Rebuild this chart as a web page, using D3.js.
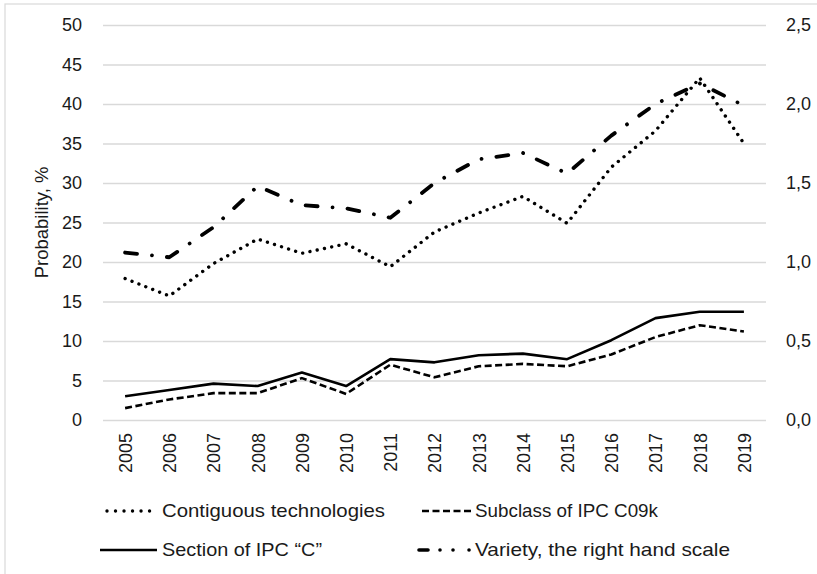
<!DOCTYPE html>
<html>
<head>
<meta charset="utf-8">
<script src="https://cdn.jsdelivr.net/npm/d3@7"></script>
<style>
  html, body { margin: 0; padding: 0; background: #fff; }
  svg { display: block; }
  text { font-family: "Liberation Sans", Arial, sans-serif; fill: #1a1a1a; }
</style>
</head>
<body>
<svg id="chart" width="817" height="574"></svg>
<script>
// ---- data ----
const years = ["2005","2006","2007","2008","2009","2010","2011","2012","2013","2014","2015","2016","2017","2018","2019"];
const contiguous = [17.9, 15.7, 19.8, 22.9, 21.1, 22.3, 19.4, 23.8, 26.2, 28.3, 24.9, 32.0, 36.6, 43.3, 35.0];
const subclassC09k = [1.5, 2.6, 3.4, 3.4, 5.3, 3.3, 7.0, 5.4, 6.8, 7.1, 6.8, 8.3, 10.5, 12.0, 11.2];
const sectionC = [3.0, 3.8, 4.6, 4.3, 6.0, 4.3, 7.7, 7.3, 8.2, 8.4, 7.7, 10.1, 12.9, 13.7, 13.7];
const variety = [1.06, 1.03, 1.22, 1.48, 1.36, 1.34, 1.28, 1.50, 1.65, 1.69, 1.56, 1.80, 2.00, 2.13, 1.99];
const leftTicks = [0, 5, 10, 15, 20, 25, 30, 35, 40, 45, 50];
const rightTicks = [0, 0.5, 1.0, 1.5, 2.0, 2.5];
const leftTitle = "Probability, %";
const legendLabels = ["Contiguous technologies", "Subclass of IPC C09k", "Section of IPC \u201CC\u201D", "Variety, the right hand scale"];

// ---- layout ----
const svg = d3.select("#chart");
const plot = { left: 103, right: 766, top: 25, bottom: 420 };
const textColor = "#1a1a1a";

svg.append("rect")
  .attr("x", 5).attr("y", 4).attr("width", 900).attr("height", 700)
  .attr("fill", "#fff").attr("stroke", "#d9d9d9").attr("stroke-width", 1.2);

const x = d3.scalePoint().domain(years).range([plot.left, plot.right]).padding(0.5);
const yL = d3.scaleLinear().domain([0, 50]).range([plot.bottom, plot.top]);
const yR = d3.scaleLinear().domain([0, 2.5]).range([plot.bottom, plot.top]);

// gridlines
svg.append("g")
  .attr("transform", `translate(${plot.left},0)`)
  .call(d3.axisLeft(yL).tickValues(leftTicks).tickSize(-(plot.right - plot.left)).tickFormat(""))
  .call(g => g.select(".domain").remove())
  .call(g => g.selectAll("line").attr("stroke", "#d9d9d9").attr("stroke-width", 1.3));

// left axis labels
svg.append("g")
  .attr("transform", `translate(${plot.left},0)`)
  .call(d3.axisLeft(yL).tickValues(leftTicks).tickSize(0).tickPadding(21).tickFormat(d3.format("d")))
  .call(g => g.select(".domain").remove())
  .call(g => g.selectAll("text").attr("font-size", 18).attr("font-family", "Liberation Sans, Arial, sans-serif").attr("fill", textColor));

// right axis labels
svg.append("g")
  .attr("transform", `translate(${plot.right},0)`)
  .call(d3.axisRight(yR).tickValues(rightTicks).tickSize(0).tickPadding(20).tickFormat(d => d.toFixed(1).replace(".", ",")))
  .call(g => g.select(".domain").remove())
  .call(g => g.selectAll("text").attr("font-size", 18).attr("font-family", "Liberation Sans, Arial, sans-serif").attr("fill", textColor));

// bottom axis labels
svg.append("g")
  .attr("transform", `translate(0,${plot.bottom})`)
  .call(d3.axisBottom(x).tickSize(0))
  .call(g => g.select(".domain").remove())
  .call(g => g.selectAll("text")
    .attr("font-size", 18)
    .attr("font-family", "Liberation Sans, Arial, sans-serif")
    .attr("fill", textColor)
    .attr("transform", "rotate(-90)")
    .attr("text-anchor", "end")
    .attr("x", -13).attr("y", 0).attr("dy", "0.35em"));

// left axis title
svg.append("text")
  .attr("transform", `translate(42,${(plot.top + plot.bottom) / 2}) rotate(-90)`)
  .attr("text-anchor", "middle").attr("dy", "0.35em")
  .attr("font-size", 18.5)
  .text(leftTitle);

// ---- lines ----
const styles = {
  contiguous: { width: 3.4, dash: "0.01 7.4", cap: "round" },
  subclass: { width: 2.6, dash: "7 3.5", cap: "butt" },
  section: { width: 2.6, dash: null, cap: "butt" },
  variety: { width: 3.8, dash: "12 15 0.01 15", cap: "round" }
};

function drawLine(values, yScale, st) {
  const line = d3.line().x((d, i) => x(years[i])).y(d => yScale(d));
  svg.append("path")
    .datum(values)
    .attr("d", line)
    .attr("fill", "none")
    .attr("stroke", "#000")
    .attr("stroke-width", st.width)
    .attr("stroke-linecap", st.cap)
    .attr("stroke-linejoin", "round")
    .attr("stroke-dasharray", st.dash);
}
drawLine(variety, yR, styles.variety);
drawLine(contiguous, yL, styles.contiguous);
drawLine(subclassC09k, yL, styles.subclass);
drawLine(sectionC, yL, styles.section);

// ---- legend ----
const legend = [
  { label: legendLabels[0], st: { width: 3.4, dash: "0.01 8.5", cap: "round" }, x0: 107, x1: 153, tx: 162, ty: 511, tw: 223 },
  { label: legendLabels[1], st: { width: 2.6, dash: "7 3.5", cap: "butt" }, x0: 422, x1: 472, tx: 475, ty: 511, tw: 183 },
  { label: legendLabels[2], st: styles.section, x0: 100, x1: 157, tx: 162, ty: 550, tw: 160 },
  { label: legendLabels[3], st: { width: 3.6, dash: "9 12 0.01 13 0.01 16 0.01 100", cap: "round" }, x0: 419, x1: 472, tx: 475, ty: 550, tw: 255 }
];
legend.forEach(l => {
  svg.append("path")
    .attr("d", d3.line()([[l.x0, l.ty], [l.x1, l.ty]]))
    .attr("fill", "none").attr("stroke", "#000")
    .attr("stroke-width", l.st.width)
    .attr("stroke-linecap", l.st.cap)
    .attr("stroke-dasharray", l.st.dash);
  svg.append("text")
    .attr("x", l.tx).attr("y", l.ty).attr("dy", "0.35em")
    .attr("font-size", 18.5)
    .attr("textLength", l.tw).attr("lengthAdjust", "spacingAndGlyphs")
    .text(l.label);
});
</script>
</body>
</html>
